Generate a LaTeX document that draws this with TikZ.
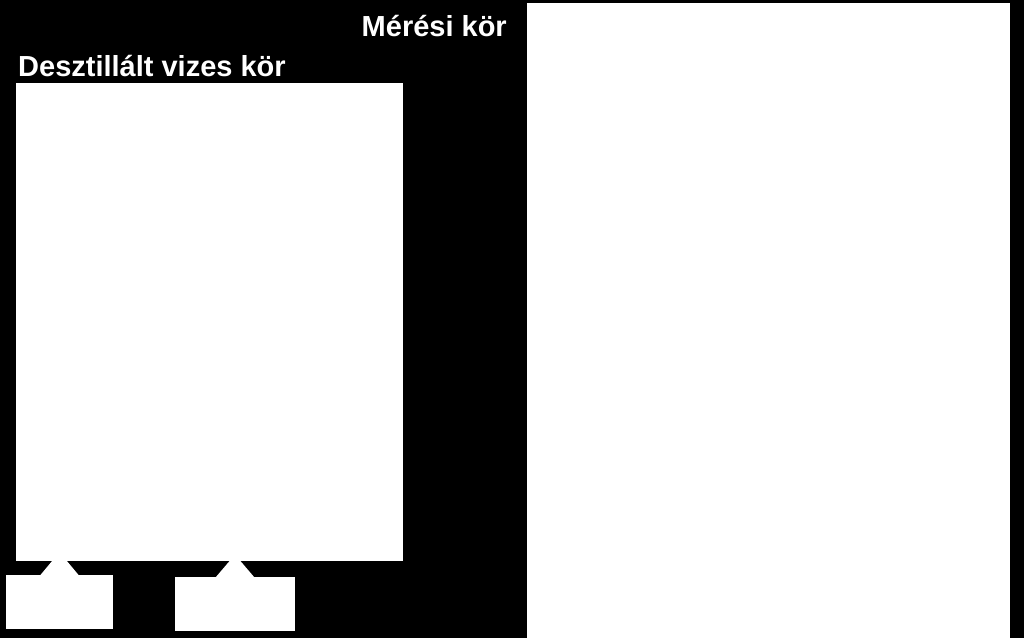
\documentclass[tikz,border=0pt]{standalone}
\usepackage{fontspec}
\setmainfont{Liberation Sans}
\usetikzlibrary{positioning}
\usetikzlibrary{calc}

\begin{document}
\begin{tikzpicture}
[
x=1pt, y=-1pt,
b/.style={rectangle, fill=white, inner sep=0pt, outer sep=0pt},
lbl/.style={text=white, inner sep=0pt, font=\fontsize{29}{34}\selectfont\bfseries}
]
\fill[black] (0,0) rectangle (1024,638);
\useasboundingbox (0,0) rectangle (1024,638);

\node[b, minimum width=387pt, minimum height=478pt] (dwc) at (209.5,322) {};
\node[b, minimum width=483pt, minimum height=635pt] (mc) at (768.5,320.5) {};
\node[b, minimum width=107pt, minimum height=54pt] (s1) at (59.5,602) {};
\node[b, minimum width=120pt, minimum height=54pt] (s2) at (235,604) {};

\node[lbl, anchor=base west] (ldwc) at (18,76) {Desztillált vizes kör};
\node[lbl, anchor=base east] (lmc) at (507,36) {Mérési kör};

\fill[white] ($(s1.north)+(-19.5,0.5)$) -- ($(s1.north)+(19.5,0.5)$)
  -- ($(s1.north |- dwc.south)+(7,-0.5)$) -- ($(s1.north |- dwc.south)+(-7,-0.5)$) -- cycle;
\fill[white] ($(s2.north)+(-19.5,0.5)$) -- ($(s2.north)+(19.5,0.5)$)
  -- ($(s2.north |- dwc.south)+(5,-0.5)$) -- ($(s2.north |- dwc.south)+(-5,-0.5)$) -- cycle;
\end{tikzpicture}
\end{document}
